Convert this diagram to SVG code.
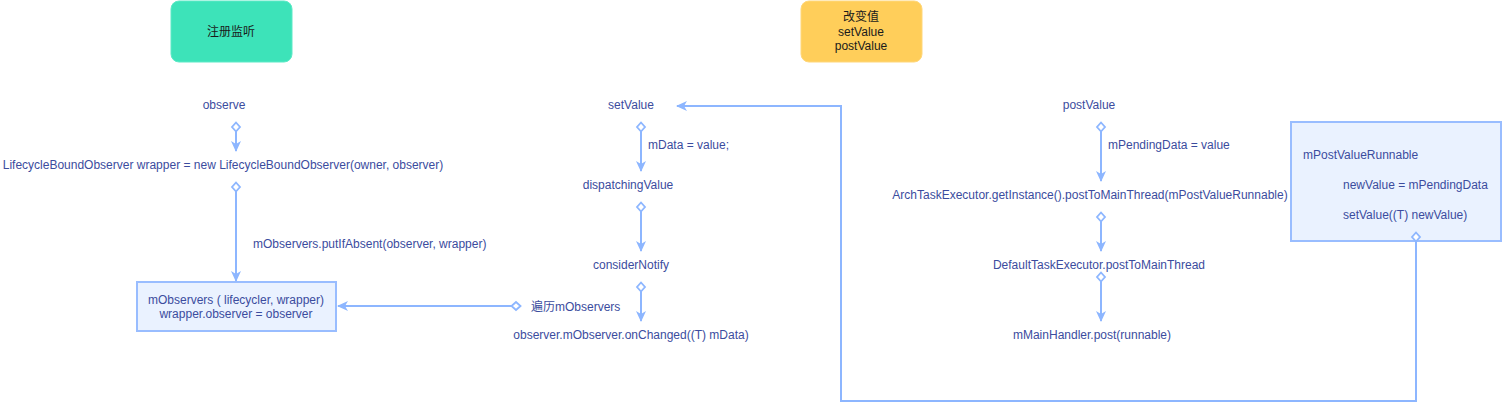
<svg xmlns="http://www.w3.org/2000/svg" width="1512" height="411" viewBox="0 0 1512 411">
<style>
text{font-family:"Liberation Sans","Noto Sans CJK SC",sans-serif;font-size:12px;fill:#3b4c9e}
.c{text-anchor:middle}
.hdr{fill:#1a1a1a}
.conn{fill:none;stroke:#8db6ff;stroke-width:2;marker-end:url(#arr)}
.d{marker-start:url(#dia)}
.box{fill:#eaf2ff;stroke:#99bdff;stroke-width:2}
</style>
<defs>
<marker id="arr" markerUnits="userSpaceOnUse" markerWidth="12" markerHeight="10" refX="10" refY="5" orient="auto" overflow="visible">
<path d="M0,0 L11,5 L0,10 L3,5 Z" fill="#8db6ff"/>
</marker>
<marker id="dia" markerUnits="userSpaceOnUse" markerWidth="10" markerHeight="10" refX="5" refY="5" orient="auto" overflow="visible">
<path d="M0.5,5 L5,1 L9.5,5 L5,9 Z" fill="#fff" stroke="#8db6ff" stroke-width="1.8"/>
</marker>
</defs>
<rect width="1512" height="411" fill="#fff"/>
<g id="header-register">
<rect x="171" y="1" width="121" height="61" rx="8" fill="#3de3b9" stroke="#5ce9c6" stroke-width="1"/>
<text class="c hdr" x="231" y="36">注册监听</text>
</g>
<g id="header-change">
<rect x="801" y="1" width="121" height="61" rx="8" fill="#ffce5a" stroke="#ffd77a" stroke-width="1"/>
<text class="c hdr" x="861" y="21">改变值</text>
<text class="c hdr" x="861" y="36">setValue</text>
<text class="c hdr" x="861" y="50">postValue</text>
</g>
<g id="observe"><text class="c" x="224" y="109">observe</text></g>
<g id="wrapper"><text class="c" x="223" y="169">LifecycleBoundObserver wrapper = new LifecycleBoundObserver(owner, observer)</text></g>
<g id="mObservers">
<rect class="box" x="137" y="282" width="199" height="49"/>
<text class="c" x="236" y="304">mObservers ( lifecycler, wrapper)</text>
<text class="c" x="236" y="318">wrapper.observer = observer</text>
</g>
<g id="setValue"><text class="c" x="631" y="109">setValue</text></g>
<g id="dispatchingValue"><text class="c" x="628" y="189">dispatchingValue</text></g>
<g id="considerNotify"><text class="c" x="631" y="269">considerNotify</text></g>
<g id="onChanged"><text class="c" x="631" y="339">observer.mObserver.onChanged((T) mData)</text></g>
<g id="postValue"><text class="c" x="1089" y="109">postValue</text></g>
<g id="archTask"><text class="c" x="1090" y="199">ArchTaskExecutor.getInstance().postToMainThread(mPostValueRunnable)</text></g>
<g id="defaultTask"><text class="c" x="1099" y="269">DefaultTaskExecutor.postToMainThread</text></g>
<g id="mainHandler"><text class="c" x="1092" y="339">mMainHandler.post(runnable)</text></g>
<g id="runnable">
<rect class="box" x="1291" y="122" width="210" height="119"/>
<text x="1303" y="159">mPostValueRunnable</text>
<text x="1343" y="189">newValue = mPendingData</text>
<text x="1343" y="219">setValue((T) newValue)</text>
</g>
<g id="connectors">
<path class="conn d" d="M236,127 L236,151"/>
<path class="conn d" d="M236,187 L236,281"/>
<path class="conn d" d="M516,306 L338,306"/>
<path class="conn d" d="M641,127 L641,171"/>
<path class="conn d" d="M641,207 L641,251"/>
<path class="conn d" d="M641,287 L641,321"/>
<path class="conn d" d="M1101,127 L1101,181"/>
<path class="conn d" d="M1101,217 L1101,251"/>
<path class="conn d" d="M1101,277 L1101,321"/>
<path class="conn d" d="M1416,237 L1416,401 L841,401 L841,106 L677,106"/>
<text x="253" y="248">mObservers.putIfAbsent(observer, wrapper)</text>
<text x="531" y="311">遍历mObservers</text>
<text x="648" y="149">mData = value;</text>
<text x="1108" y="149">mPendingData = value</text>
</g>
</svg>
